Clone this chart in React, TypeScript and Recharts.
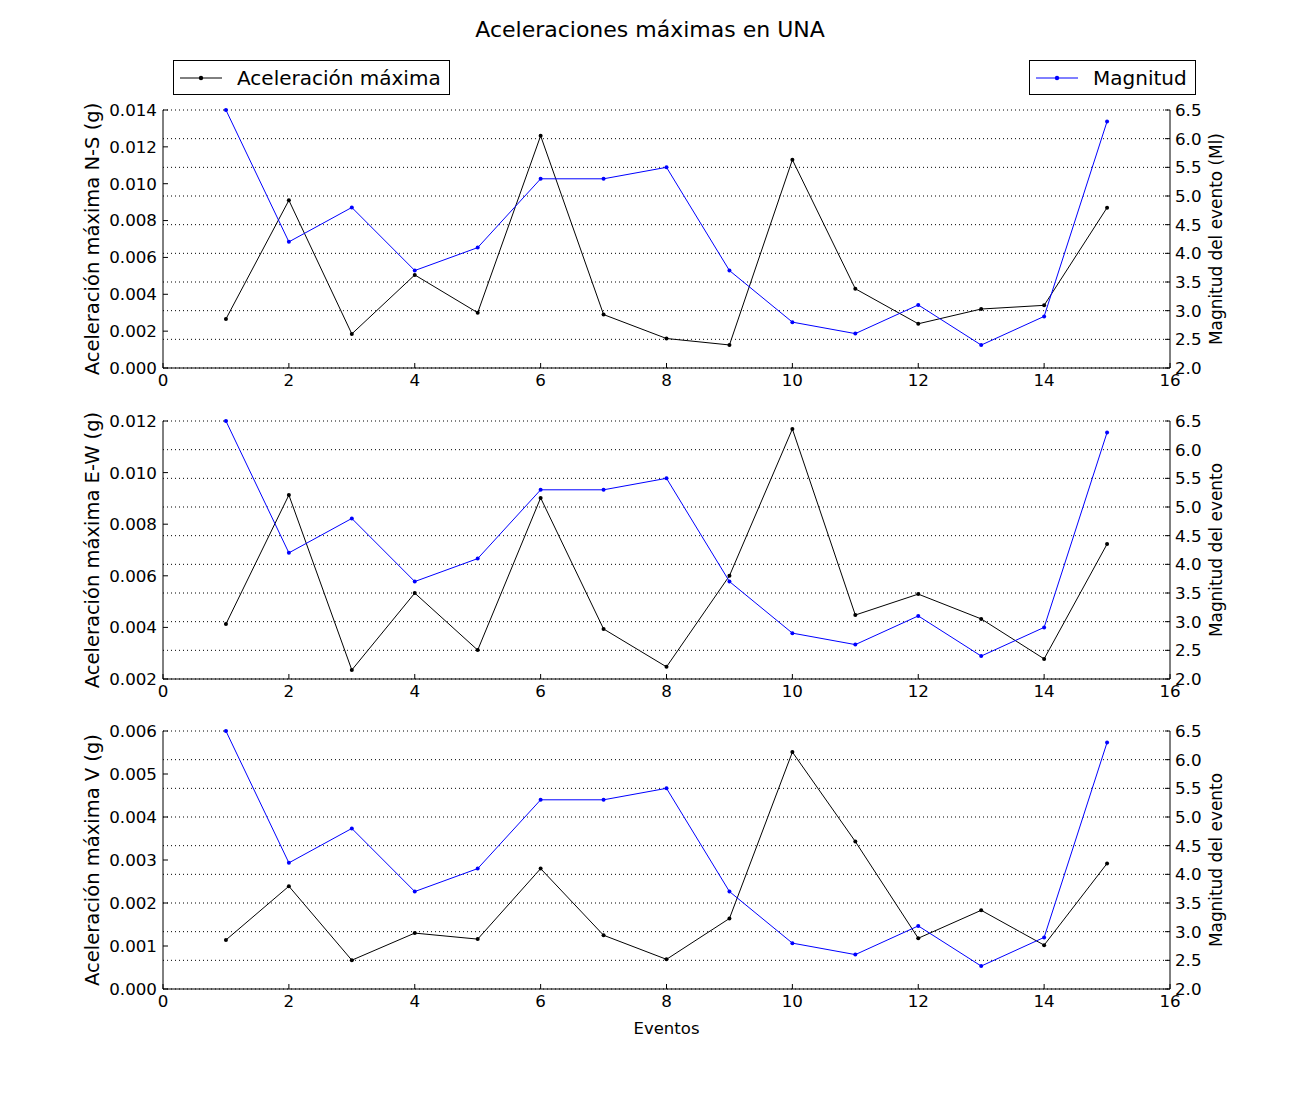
import React from "react";
import { LineChart, Line, XAxis, YAxis, CartesianGrid } from "recharts";

// Eventos 1..15
const eventos = [1, 2, 3, 4, 5, 6, 7, 8, 9, 10, 11, 12, 13, 14, 15];
const magnitud = [6.5, 4.2, 4.8, 3.7, 4.1, 5.3, 5.3, 5.5, 3.7, 2.8, 2.6, 3.1, 2.4, 2.9, 6.3];
const aceleracionNS = [0.00266, 0.0091, 0.00185, 0.00505, 0.003, 0.0126, 0.0029, 0.0016, 0.00125, 0.0113, 0.0043, 0.0024, 0.0032, 0.0034, 0.0087];
const aceleracionEW = [0.00413, 0.00913, 0.00235, 0.00533, 0.00312, 0.00902, 0.00394, 0.00247, 0.006, 0.01169, 0.00448, 0.00529, 0.00433, 0.00278, 0.00723];
const aceleracionV = [0.00114, 0.00239, 0.00067, 0.0013, 0.00116, 0.0028, 0.00125, 0.00069, 0.00164, 0.00551, 0.00343, 0.00118, 0.00183, 0.00102, 0.00292];

const xTicks = [0, 2, 4, 6, 8, 10, 12, 14, 16];
const magTicks = [2, 2.5, 3, 3.5, 4, 4.5, 5, 5.5, 6, 6.5];
const ticksNS = [0, 0.002, 0.004, 0.006, 0.008, 0.01, 0.012, 0.014];
const ticksEW = [0.002, 0.004, 0.006, 0.008, 0.01, 0.012];
const ticksV = [0, 0.001, 0.002, 0.003, 0.004, 0.005, 0.006];

const FONT = "'DejaVu Sans', sans-serif";
const BLUE = "#0000ff";

type PanelProps = {
  top: number;
  acc: number[];
  ticks: number[];
  label: string;
  rightLabel: string;
};

function Panel({ top, acc, ticks, label, rightLabel }: PanelProps) {
  const data = eventos.map((e, i) => ({ evento: e, acc: acc[i], mag: magnitud[i] }));
  const tickStyle = { fill: "#000", fontSize: 16.7, fontFamily: FONT };
  return (
    <div style={{ position: "absolute", left: 0, top: top - 10 }}>
      <LineChart width={1300} height={308} data={data} margin={{ top: 10, right: 70, bottom: 10, left: 73 }}>
        <CartesianGrid yAxisId="mag" vertical={false} stroke="#000" strokeDasharray="1 3" />
        <XAxis
          dataKey="evento"
          type="number"
          domain={[0, 16]}
          ticks={xTicks}
          interval={0}
          height={30}
          tickSize={-5}
          tickMargin={11}
          stroke="#000"
          tick={tickStyle}
        />
        <XAxis
          xAxisId="top"
          orientation="top"
          dataKey="evento"
          type="number"
          domain={[0, 16]}
          ticks={xTicks}
          interval={0}
          height={0}
          tickSize={-5}
          stroke="#000"
          tickFormatter={() => ""}
        />
        <YAxis
          yAxisId="acc"
          domain={[ticks[0], ticks[ticks.length - 1]]}
          ticks={ticks}
          interval={0}
          width={90}
          tickSize={-5}
          tickMargin={11}
          stroke="#000"
          tick={tickStyle}
          tickFormatter={(v: number) => v.toFixed(3)}
          label={{
            value: label,
            angle: -90,
            position: "insideLeft",
            offset: 19,
            style: { textAnchor: "middle", fill: "#000", fontSize: 19.5, fontFamily: FONT },
          }}
        />
        <YAxis
          yAxisId="mag"
          orientation="right"
          domain={[2, 6.5]}
          ticks={magTicks}
          interval={0}
          width={60}
          tickSize={-5}
          tickMargin={10}
          stroke="#000"
          tick={tickStyle}
          tickFormatter={(v: number) => v.toFixed(1)}
          label={{
            value: rightLabel,
            angle: -90,
            position: "insideRight",
            offset: 14,
            style: { textAnchor: "middle", fill: "#000", fontSize: 16.9, fontFamily: FONT },
          }}
        />
        <Line
          yAxisId="acc"
          dataKey="acc"
          stroke="#000"
          strokeWidth={1}
          dot={{ r: 2, fill: "#000", stroke: "#000", strokeWidth: 0 }}
          isAnimationActive={false}
        />
        <Line
          yAxisId="mag"
          dataKey="mag"
          stroke={BLUE}
          strokeWidth={1}
          dot={{ r: 2, fill: BLUE, stroke: BLUE, strokeWidth: 0 }}
          isAnimationActive={false}
        />
      </LineChart>
    </div>
  );
}

function LegendBox({ left, width, color, text }: { left: number; width: number; color: string; text: string }) {
  return (
    <div
      style={{
        position: "absolute",
        left,
        top: 60,
        width,
        height: 33,
        border: "1px solid #000",
        background: "#fff",
        display: "flex",
        alignItems: "center",
        fontSize: 20,
        fontFamily: FONT,
      }}
    >
      <svg width={42} height={10} style={{ marginLeft: 6, marginRight: 15 }}>
        <line x1={0} y1={5} x2={42} y2={5} stroke={color} strokeWidth={1} />
        <circle cx={21} cy={5} r={2.2} fill={color} />
      </svg>
      <span>{text}</span>
    </div>
  );
}

export default function App() {
  return (
    <div style={{ position: "absolute", left: 0, top: 0, width: 1300, height: 1100, background: "#fff", fontFamily: FONT }}>
      <div style={{ position: "absolute", left: 0, width: 1300, top: 17, textAlign: "center", fontSize: 22 }}>
        Aceleraciones máximas en UNA
      </div>
      <LegendBox left={173} width={275} color="#000" text="Aceleración máxima" />
      <LegendBox left={1029} width={165} color={BLUE} text="Magnitud" />
      <Panel top={110} acc={aceleracionNS} ticks={ticksNS} label="Aceleración máxima N-S (g)" rightLabel="Magnitud del evento (Ml)" />
      <Panel top={421} acc={aceleracionEW} ticks={ticksEW} label="Aceleración máxima E-W (g)" rightLabel="Magnitud del evento" />
      <Panel top={731} acc={aceleracionV} ticks={ticksV} label="Aceleración máxima V (g)" rightLabel="Magnitud del evento" />
      <div style={{ position: "absolute", left: 163, width: 1007, top: 1019, textAlign: "center", fontSize: 16.5 }}>
        Eventos
      </div>
    </div>
  );
}
